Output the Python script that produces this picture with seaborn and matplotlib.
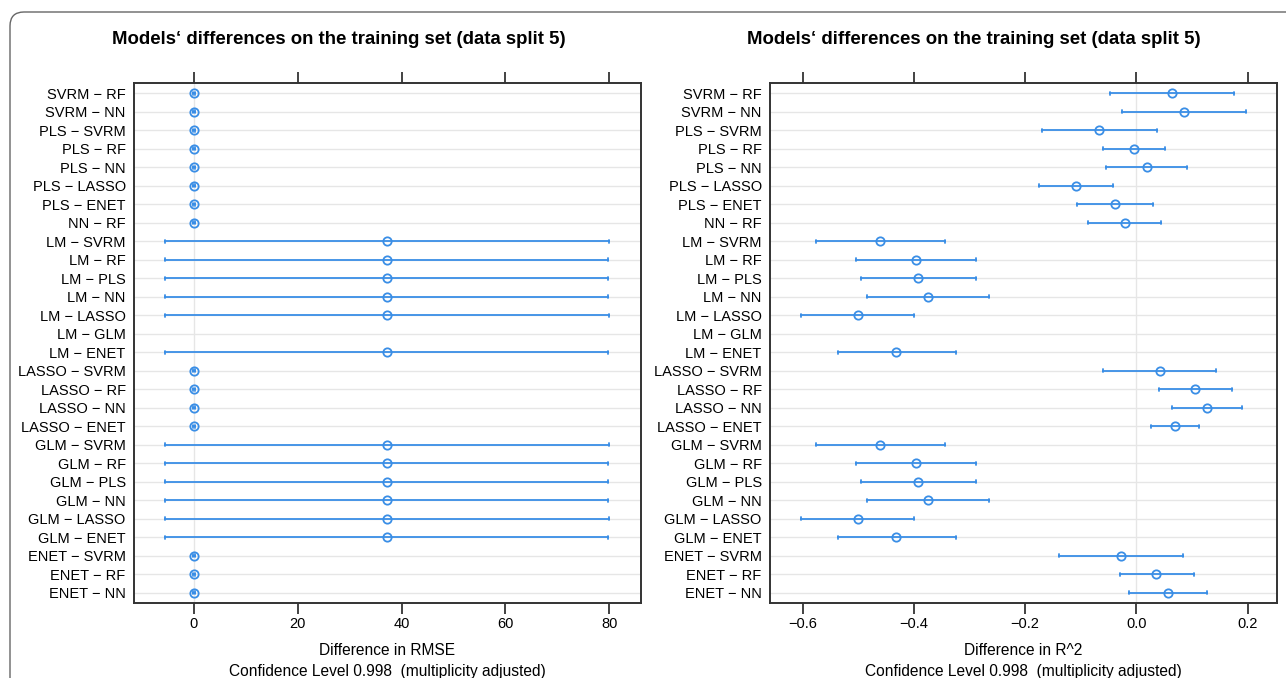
import numpy as np
import pandas as pd
import matplotlib
matplotlib.use("Agg")
import matplotlib.pyplot as plt
from matplotlib.patches import FancyBboxPatch
import seaborn as sns

# comparisons, top to bottom
pairs = [
    "SVRM − RF", "SVRM − NN", "PLS − SVRM", "PLS − RF", "PLS − NN",
    "PLS − LASSO", "PLS − ENET", "NN − RF", "LM − SVRM", "LM − RF",
    "LM − PLS", "LM − NN", "LM − LASSO", "LM − GLM", "LM − ENET",
    "LASSO − SVRM", "LASSO − RF", "LASSO − NN", "LASSO − ENET",
    "GLM − SVRM", "GLM − RF", "GLM − PLS", "GLM − NN", "GLM − LASSO",
    "GLM − ENET", "ENET − SVRM", "ENET − RF", "ENET − NN",
]

nan = np.nan

# RMSE differences (estimate, lower, upper)
rmse_est = [0.0, 0.0, 0.0, 0.0, 0.0, 0.0, 0.0, 0.0,
            37.1, 37.1, 37.1, 37.1, 37.2, nan, 37.1,
            0.0, 0.0, 0.0, 0.0,
            37.2, 37.1, 37.1, 37.1, 37.2, 37.1,
            0.0, 0.0, 0.0]
rmse_lwr = [-0.2, -0.2, -0.2, -0.2, -0.2, -0.2, -0.2, -0.2,
            -5.5, -5.5, -5.5, -5.6, -5.5, nan, -5.5,
            -0.2, -0.2, -0.2, -0.2,
            -5.5, -5.5, -5.5, -5.6, -5.5, -5.5,
            -0.2, -0.2, -0.2]
rmse_upr = [0.2, 0.2, 0.2, 0.2, 0.2, 0.2, 0.2, 0.2,
            79.9, 79.8, 79.8, 79.8, 79.9, nan, 79.8,
            0.2, 0.2, 0.2, 0.2,
            79.9, 79.8, 79.8, 79.8, 79.9, 79.8,
            0.2, 0.2, 0.2]

# R^2 differences (estimate, lower, upper)
r2_est = [0.064, 0.086, -0.067, -0.004, 0.019, -0.108, -0.039, -0.020,
          -0.460, -0.396, -0.392, -0.375, -0.501, nan, -0.432,
          0.042, 0.106, 0.127, 0.070,
          -0.460, -0.396, -0.392, -0.375, -0.501, -0.432,
          -0.027, 0.036, 0.057]
r2_lwr = [-0.048, -0.026, -0.169, -0.059, -0.054, -0.175, -0.107, -0.086,
          -0.575, -0.504, -0.495, -0.485, -0.603, nan, -0.537,
          -0.059, 0.040, 0.064, 0.027,
          -0.575, -0.504, -0.495, -0.485, -0.603, -0.537,
          -0.139, -0.030, -0.013]
r2_upr = [0.176, 0.198, 0.037, 0.052, 0.091, -0.041, 0.030, 0.045,
          -0.344, -0.288, -0.288, -0.264, -0.399, nan, -0.324,
          0.144, 0.172, 0.190, 0.113,
          -0.344, -0.288, -0.288, -0.264, -0.399, -0.324,
          0.084, 0.103, 0.127]

BLUE = "#3a8ee6"
GRID = "#e6e6e6"


def long_frame(est, lwr, upr):
    rows = []
    for p, e, lo, hi in zip(pairs, est, lwr, upr):
        for v in (lo, e, hi):
            rows.append({"pair": p, "diff": v})
    return pd.DataFrame(rows).dropna()


def draw_panel(ax, est, lwr, upr, xlim, ticks, ticklabels, xlabel):
    df = long_frame(est, lwr, upr)
    ax.axvline(0, color=GRID, lw=1.0, zorder=0)
    sns.pointplot(data=df, x="diff", y="pair", order=pairs,
                  estimator="median", errorbar=lambda v: (v.min(), v.max()),
                  linestyle="none", marker="o", color=BLUE,
                  markersize=6, markerfacecolor="none", markeredgewidth=1.3,
                  capsize=0.15, err_kws={"linewidth": 1.3}, ax=ax)
    ax.set_xlim(*xlim)
    ax.set_ylim(len(pairs) - 0.45, -0.55)
    ax.set_xticks(ticks)
    ax.set_xticklabels(ticklabels)
    ax.yaxis.grid(True, color=GRID, lw=1.0, zorder=0)
    ax.set_axisbelow(True)
    ax.set_ylabel("")
    ax.set_xlabel(xlabel + "\nConfidence Level 0.998  (multiplicity adjusted)",
                  fontsize=11.2, labelpad=9, linespacing=1.5, color="black")
    ax.tick_params(axis="y", length=0, labelsize=10.5, pad=6,
                   labelcolor="black")
    ax.tick_params(axis="x", top=True, bottom=True, direction="out",
                   length=8, width=1.2, color="#222222", labelsize=10.5,
                   labeltop=False, pad=2, labelcolor="black")
    for s in ax.spines.values():
        s.set_visible(True)
        s.set_color("#333333")
        s.set_linewidth(1.4)


sns.set_theme(style="white")
plt.rcParams["font.family"] = ["Liberation Sans", "DejaVu Sans"]

fig = plt.figure(figsize=(12.86, 6.78), dpi=100)

# outer rounded frame
frame = FancyBboxPatch((0.10, -0.5), 13.5, 7.16,
                       boxstyle="round,pad=0,rounding_size=0.14",
                       transform=fig.dpi_scale_trans, facecolor="none",
                       edgecolor="#666666", lw=1.0)
fig.add_artist(frame)

ax1 = fig.add_axes([0.1042, 0.1106, 0.3942, 0.767])
ax2 = fig.add_axes([0.5988, 0.1106, 0.3942, 0.767])

draw_panel(ax1, rmse_est, rmse_lwr, rmse_upr, (-11.55, 86.1),
           [0, 20, 40, 60, 80], ["0", "20", "40", "60", "80"],
           "Difference in RMSE")
draw_panel(ax2, r2_est, r2_lwr, r2_upr, (-0.6585, 0.253),
           [-0.6, -0.4, -0.2, 0.0, 0.2], ["−0.6", "−0.4", "−0.2", "0.0", "0.2"],
           "Difference in R^2")

title = "Models\u2018 differences on the training set (data split 5)"
fig.text(339 / 1286, 1 - 40 / 678, title, ha="center", va="center",
         fontsize=13.4, fontweight="bold", color="black")
fig.text(974 / 1286, 1 - 40 / 678, title, ha="center", va="center",
         fontsize=13.4, fontweight="bold", color="black")

fig.savefig("out.png", dpi=100)
